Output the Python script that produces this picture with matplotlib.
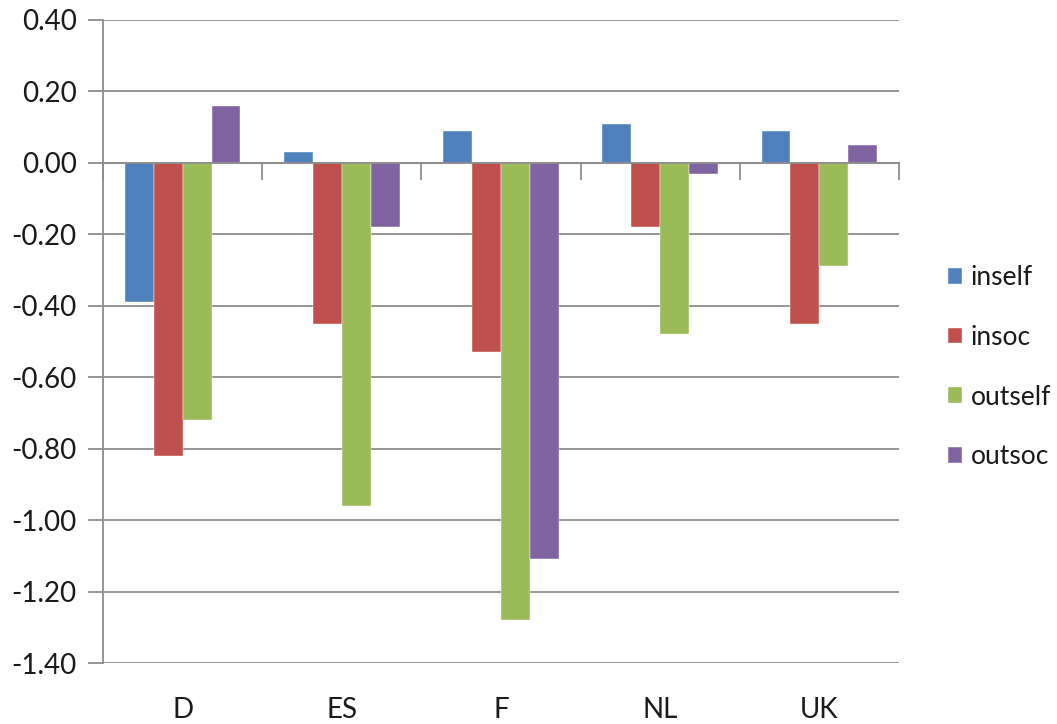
import matplotlib
matplotlib.use("Agg")
import matplotlib.pyplot as plt
import matplotlib.transforms as mtransforms
import numpy as np

categories = ["D", "ES", "F", "NL", "UK"]
series_names = ["inself", "insoc", "outself", "outsoc"]
inself = [-0.39, 0.03, 0.09, 0.11, 0.09]
insoc = [-0.82, -0.45, -0.53, -0.18, -0.45]
outself = [-0.72, -0.96, -1.28, -0.48, -0.29]
outsoc = [0.16, -0.18, -1.11, -0.03, 0.05]
yticks = [0.40, 0.20, 0.00, -0.20, -0.40, -0.60, -0.80, -1.00, -1.20, -1.40]

colors = ["#4F81BD", "#C0504D", "#9BBB59", "#8064A2"]
plt.rcParams['font.family'] = ['Lato', 'DejaVu Sans']

fig = plt.figure(figsize=(10.57, 7.24), dpi=100)
ax = fig.add_axes([103/1057, 1-663/724, (899-103)/1057, (663-20)/724])

x = np.arange(len(categories))
bw = 1/5.5
data = [inself, insoc, outself, outsoc]
for i, (name, vals) in enumerate(zip(series_names, data)):
    ax.bar(x + (i-1.5)*bw, vals, width=bw, color=colors[i], label=name,
           edgecolor='white', linewidth=0.3, zorder=3)

ax.set_xlim(-0.5, len(categories)-0.5)
ax.set_ylim(-1.40, 0.40)
ax.set_yticks(yticks)
ax.set_yticklabels([f"{v:.2f}" for v in yticks])
ax.yaxis.grid(True, color="#8C8C8C", linewidth=1.3, zorder=0)
ax.set_axisbelow(True)

grey = "#8C8C8C"
for s in ['top', 'right']:
    ax.spines[s].set_visible(False)
ax.spines['left'].set_color(grey)
ax.spines['left'].set_linewidth(1.3)
ax.spines['bottom'].set_position(('data', 0))
ax.spines['bottom'].set_color(grey)
ax.spines['bottom'].set_linewidth(1.3)
ax.spines['bottom'].set_zorder(4)

ax.set_xticks(np.arange(len(categories)+1) - 0.5)
ax.set_xticklabels([])
ax.tick_params(axis='x', direction='out', length=12, color=grey, width=1.3)
ax.tick_params(axis='y', direction='out', length=11, color=grey, width=1.3,
               labelsize=20, pad=8, labelcolor="#1a1a1a")

trans = mtransforms.blended_transform_factory(ax.transData, ax.transAxes)
for xi, c in zip(x, categories):
    ax.text(xi, -47/643, c, transform=trans, ha='center', va='center', fontsize=20,
            color="#1a1a1a")

leg = ax.legend(loc='center left', bbox_to_anchor=(1.0615, 0.46), frameon=False,
                fontsize=19, handlelength=0.55, handleheight=0.55,
                handletextpad=0.3, labelspacing=1.32, borderaxespad=0,
                borderpad=0)
for t in leg.get_texts():
    t.set_color("#1a1a1a")

fig.savefig("out.png", dpi=100)
